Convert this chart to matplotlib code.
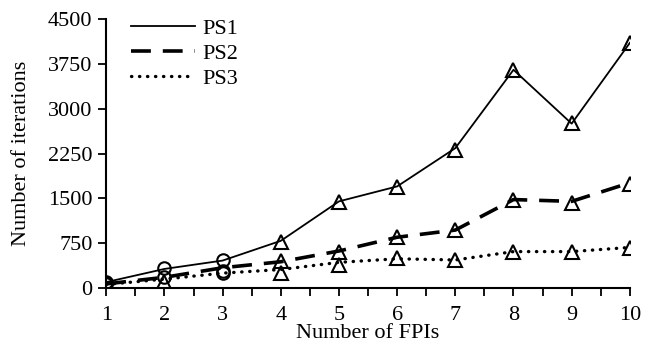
import numpy as np
import matplotlib
matplotlib.use("Agg")
import matplotlib.pyplot as plt

plt.rcParams['font.family'] = ['Liberation Serif', 'DejaVu Serif']

fpis = [1, 2, 3, 4, 5, 6, 7, 8, 9, 10]

# line values per series
ps1 = [100, 320, 460, 790, 1450, 1700, 2340, 3650, 2750, 4100]
ps2 = [70, 180, 340, 440, 620, 850, 970, 1480, 1450, 1760]
ps3 = [60, 150, 250, 310, 430, 490, 470, 610, 610, 680]

# measured points shown as markers
ps1_pts = [100, 330, 465, 775, 1445, 1695, 2310, 3650, 2755, 4095]
ps2_pts = [80, 190, 290, 450, 600, 850, 970, 1470, 1430, 1740]
ps3_pts = [60, 100, 250, 245, 380, 497, 470, 608, 608, 670]
ps1_shape = ['o', 'o', 'o', '^', '^', '^', '^', '^', '^', '^']
ps2_shape = ['o', 'o', 'o', '^', '^', '^', '^', '^', '^', '^']
ps3_shape = ['o', '^', 'o', '^', '^', '^', '^', '^', '^', '^']

labels = ["PS1", "PS2", "PS3"]
yticks = [0, 750, 1500, 2250, 3000, 3750, 4500]

fig = plt.figure(figsize=(6.52, 3.45), dpi=100)
ax = fig.add_axes([0.163, 0.165, 0.803, 0.78])

ax.plot(fpis, ps1, color='black', lw=1.3, ls='-', label=labels[0])
ax.plot(fpis, ps2, color='black', lw=2.6, ls=(0, (5.5, 3.3)), label=labels[1])
ax.plot(fpis, ps3, color='black', lw=2.4, ls=(0, (0.1, 2.3)),
        dash_capstyle='round', label=labels[2])

for pts, shapes in [(ps1_pts, ps1_shape), (ps2_pts, ps2_shape), (ps3_pts, ps3_shape)]:
    for xv, yv, m in zip(fpis, pts, shapes):
        ms = 9 if m == 'o' else 10
        ax.plot(xv, yv, marker=m, ms=ms, mfc='none', mec='black', mew=1.5,
                ls='none')

ax.set_xlim(1, 10)
ax.set_ylim(0, 4500)
ax.set_yticks(yticks)
ax.set_xticks(fpis)
ax.set_xticks(np.arange(1.5, 10, 1.0), minor=True)
ax.tick_params(axis='both', which='both', direction='out', length=6,
               width=1.3, labelsize=16, color='black')
ax.tick_params(axis='x', pad=7)
ax.tick_params(axis='y', pad=4)

for s in ['top', 'right']:
    ax.spines[s].set_visible(False)
for s in ['left', 'bottom']:
    ax.spines[s].set_linewidth(1.5)

ax.set_xlabel("Number of FPIs", fontsize=16, labelpad=-1)
ax.set_ylabel("Number of iterations", fontsize=16, labelpad=12)

ax.legend(loc='upper left', bbox_to_anchor=(0.03, 1.035), frameon=False,
          fontsize=16, handlelength=2.9, handletextpad=0.3,
          labelspacing=0.2, borderaxespad=0)

fig.savefig("out.png", dpi=100)
